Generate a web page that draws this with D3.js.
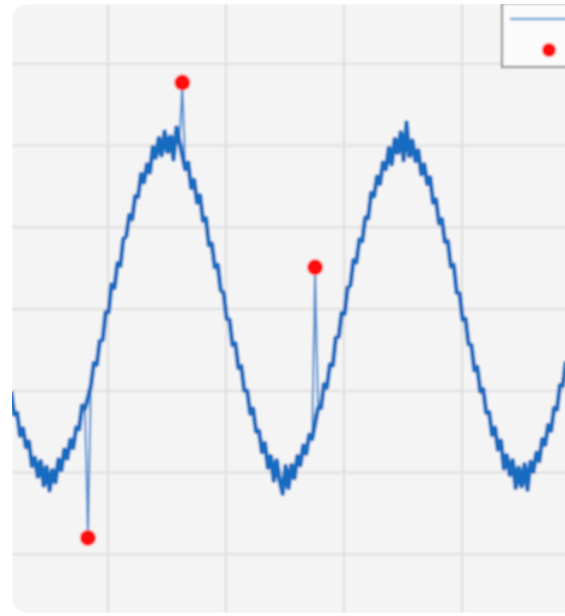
<!DOCTYPE html>
<html lang="en">
<head>
  <meta charset="UTF-8">
  <title>Noisy signal with outliers</title>
  <script src="https://d3js.org/d3.v7.min.js"></script>
  <style>
    body {
      margin: 0;
      background: #fff;
      font-family: "DejaVu Sans", Arial, sans-serif;
    }
  </style>
</head>
<body>
  <div id="chart"></div>

  <script>
    // sampled signal: first sample time and sample spacing
    const t0 = 0.18;
    const dt = 0.025;

    const signal = [
      -1.01, -1.29, -1.27, -1.55, -1.46, -1.69, -1.62, -1.92, -1.82, -2.05,
      -1.86, -2.16, -1.93, -2.22, -1.97, -2.12, -1.84, -1.97, -1.72, -1.83,
      -1.60, -1.70, -1.45, -1.47, -1.18, -1.22, -2.80, -0.94, -0.66, -0.68,
      -0.39, -0.38, -0.04, -0.04, 0.30, 0.26, 0.56, 0.53, 0.86, 0.89,
      1.15, 1.10, 1.38, 1.37, 1.65, 1.55, 1.77, 1.67, 1.98, 1.85,
      2.09, 1.88, 2.17, 1.92, 2.11, 1.83, 2.22, 2.05, 2.77, 1.71,
      1.79, 1.48, 1.58, 1.30, 1.39, 1.08, 1.11, 0.78, 0.80, 0.51,
      0.54, 0.23, 0.20, -0.12, -0.13, -0.44, -0.42, -0.72, -0.70, -1.00,
      -1.00, -1.28, -1.22, -1.50, -1.49, -1.75, -1.64, -1.94, -1.80, -2.10,
      -1.85, -2.10, -2.26, -1.92, -2.19, -1.91, -2.07, -1.80, -1.91, -1.67,
      -1.77, -1.54, -1.59, 0.51, -1.21, -1.21, -0.92, -0.96, -0.68, -0.69,
      -0.35, -0.34, -0.05, -0.06, 0.26, 0.29, 0.60, 0.57, 0.85, 0.83,
      1.12, 1.11, 1.42, 1.38, 1.62, 1.53, 1.79, 1.71, 1.97, 1.77,
      2.08, 1.91, 2.16, 1.82, 2.28, 1.87, 2.06, 1.81, 1.94, 1.65,
      1.77, 1.53, 1.61, 1.30, 1.34, 1.05, 1.10, 0.82, 0.83, 0.52,
      0.54, 0.20, 0.19, -0.13, -0.12, -0.43, -0.44, -0.75, -0.71, -1.01,
      -0.98, -1.27, -1.26, -1.54, -1.45, -1.72, -1.61, -1.95, -1.79, -2.03,
      -1.85, -2.19, -1.94, -2.17, -1.90, -2.21, -1.87, -1.99, -1.76, -1.86,
      -1.59, -1.66, -1.42, -1.49, -1.21, -1.23, -0.93, -0.94, -0.64
    ];

    // samples flagged as outliers (index into signal)
    const outlierIdx = [26, 58, 103];

    const xGrid = [1, 2, 3, 4];
    const yGrid = [-3, -2, -1, 0, 1, 2, 3];

    const W = 565, H = 616;
    const card = {x: 12, y: 4, w: 620, h: 609};

    const data = signal.map((v, i) => ({t: t0 + i * dt, v: v, out: outlierIdx.includes(i)}));
    const outliers = data.filter(d => d.out);
    const clean = data.filter(d => !d.out);

    const x = d3.scaleLinear().domain([0, 5]).range([-10, 580]);
    const y = d3.scaleLinear().domain([-4, 4]).range([636, -18]);

    const svg = d3.select("#chart")
                  .append("svg")
                  .attr("width", W)
                  .attr("height", H);

    const defs = svg.append("defs");
    defs.append("clipPath").attr("id", "plotclip")
        .append("rect")
        .attr("x", card.x).attr("y", card.y)
        .attr("width", card.w).attr("height", card.h)
        .attr("rx", 16);
    defs.append("filter").attr("id", "soft")
        .append("feGaussianBlur").attr("stdDeviation", 0.8);

    const g = svg.append("g")
                 .attr("clip-path", "url(#plotclip)")
                 .attr("filter", "url(#soft)");

    g.append("rect")
     .attr("x", card.x).attr("y", card.y)
     .attr("width", card.w).attr("height", card.h)
     .attr("fill", "#f4f4f4");

    // grid
    g.selectAll(".vgrid")
     .data(xGrid)
     .enter()
     .append("line")
     .attr("class", "vgrid")
     .attr("x1", d => x(d)).attr("x2", d => x(d))
     .attr("y1", card.y).attr("y2", card.y + card.h)
     .attr("stroke", "#dedede")
     .attr("stroke-width", 2.2);

    g.selectAll(".hgrid")
     .data(yGrid)
     .enter()
     .append("line")
     .attr("class", "hgrid")
     .attr("x1", card.x).attr("x2", card.x + card.w)
     .attr("y1", d => y(d)).attr("y2", d => y(d))
     .attr("stroke", "#dedede")
     .attr("stroke-width", 2.2);

    const line = d3.line()
                   .x(d => x(d.t))
                   .y(d => y(d.v));

    // full series, thin: shows the spikes to the outliers
    g.append("path")
     .datum(data)
     .attr("fill", "none")
     .attr("stroke", "#5592d2")
     .attr("stroke-width", 2.2)
     .attr("stroke-linejoin", "round")
     .attr("d", line);

    // dense noisy band of the signal itself
    g.append("path")
     .datum(clean)
     .attr("fill", "none")
     .attr("stroke", "#196cc0")
     .attr("stroke-width", 4.6)
     .attr("stroke-linejoin", "round")
     .attr("d", line);

    g.selectAll(".outlier")
     .data(outliers)
     .enter()
     .append("circle")
     .attr("class", "outlier")
     .attr("cx", d => x(d.t))
     .attr("cy", d => y(d.v))
     .attr("r", 8)
     .attr("fill", "#ff0a0a");

    // legend (partly outside the view, as in the crop)
    const lg = g.append("g").attr("transform", "translate(502,3)");
    lg.append("rect")
      .attr("width", 140).attr("height", 64)
      .attr("fill", "#fbfbfb")
      .attr("stroke", "#8c8c8c")
      .attr("stroke-width", 2.2);
    lg.append("line")
      .attr("x1", 8).attr("x2", 86)
      .attr("y1", 16).attr("y2", 16)
      .attr("stroke", "#6ea3d8")
      .attr("stroke-width", 2.4);
    lg.append("circle")
      .attr("cx", 47).attr("cy", 47)
      .attr("r", 7)
      .attr("fill", "#ff0a0a");
  </script>
</body>
</html>
